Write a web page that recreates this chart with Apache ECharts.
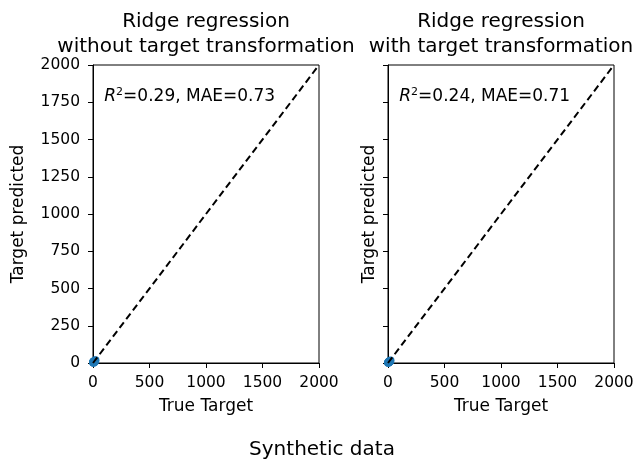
<!DOCTYPE html>
<html>
<head>
<meta charset="utf-8">
<script src="https://cdn.jsdelivr.net/npm/echarts@6/dist/echarts.min.js"></script>
<style>
  html, body { margin: 0; padding: 0; background: #fff; }
  #chart { width: 642px; height: 461px; }
</style>
</head>
<body>
<div id="chart"></div>
<script>
// Axis ticks shared by both panels
const yTicks = [0, 250, 500, 750, 1000, 1250, 1500, 1750, 2000];
const xTicks = [0, 500, 1000, 1500, 2000];

// Test-set targets and predictions (they all sit close to the origin)
const trueTargetA = [1, 3, 4, 6, 8, 10, 12, 15, 18, 22, 2, 5, 9, 14];
const predictedA  = [4, 6, 3, 9, 7, 12, 10, 14, 16, 19, 8, 2, 11, 6];
const trueTargetB = [1, 3, 4, 6, 8, 10, 12, 15, 18, 22, 2, 5, 9, 14];
const predictedB  = [2, 4, 3, 7, 6, 10, 9, 12, 14, 17, 3, 3, 8, 10];

// Perfect-prediction reference line
const identityLine = [[0, 0], [2000, 2000]];

// Panel titles and scores
const panelTitles = [
  'Ridge regression\nwithout target transformation',
  'Ridge regression\nwith target transformation'
];
const r2Scores = ['0.29', '0.24'];
const maeScores = ['0.73', '0.71'];
const scoreAnchor = [100, 1750];

const FONT = 'DejaVu Sans';
const grids = [
  { left: 93, top: 65, width: 226, height: 298 },
  { left: 388, top: 65, width: 226, height: 298 }
];

function pairs(xs, ys) { return xs.map((x, i) => [x, ys[i]]); }
const plain = v => String(v);

const xAxes = grids.map((g, i) => ({
  type: 'value', gridIndex: i,
  min: xTicks[0], max: xTicks[xTicks.length - 1], interval: xTicks[1] - xTicks[0],
  name: 'True Target', nameLocation: 'middle', nameGap: 35,
  nameTextStyle: { fontFamily: FONT, fontSize: 17, color: '#000' },
  axisLine: { show: true, lineStyle: { color: '#000', width: 1 } },
  axisTick: { show: true, length: 5, lineStyle: { color: '#000' } },
  axisLabel: { fontFamily: FONT, fontSize: 15.5, color: '#000', margin: 12, formatter: plain },
  splitLine: { show: false }
}));

const yAxes = grids.map((g, i) => ({
  type: 'value', gridIndex: i,
  min: yTicks[0], max: yTicks[yTicks.length - 1], interval: yTicks[1] - yTicks[0],
  name: 'Target predicted', nameLocation: 'middle', nameGap: i === 0 ? 66 : 10,
  nameTextStyle: { fontFamily: FONT, fontSize: 17, color: '#000' },
  axisLine: { show: true, lineStyle: { color: '#000', width: 1 } },
  axisTick: { show: true, length: 5, lineStyle: { color: '#000' } },
  axisLabel: { show: i === 0, fontFamily: FONT, fontSize: 15.5, color: '#000', margin: 13, formatter: plain },
  splitLine: { show: false }
}));

const series = [];
[[trueTargetA, predictedA], [trueTargetB, predictedB]].forEach(([t, p], i) => {
  series.push({
    type: 'scatter', xAxisIndex: i, yAxisIndex: i,
    data: pairs(t, p), symbolSize: 8,
    itemStyle: { color: '#1f77b4', opacity: 1 },
    z: 3
  });
  series.push({
    type: 'line', xAxisIndex: i, yAxisIndex: i,
    data: identityLine, symbol: 'none', silent: true,
    lineStyle: { color: '#000', width: 2, type: [7, 4] },
    z: 4
  });
  series.push({
    type: 'scatter', xAxisIndex: i, yAxisIndex: i,
    data: [scoreAnchor], symbolSize: 0, silent: true,
    itemStyle: { opacity: 1 },
    label: {
      show: true, position: [0, 4], align: 'left', verticalAlign: 'bottom', color: '#000',
      formatter: '{it|R}{sup|2}{n|=' + r2Scores[i] + ', MAE=' + maeScores[i] + '}',
      rich: {
        it: { fontFamily: FONT, fontSize: 17, fontStyle: 'italic', color: '#000', lineHeight: 20 },
        sup: { fontFamily: FONT, fontSize: 11, color: '#000', verticalAlign: 'top', lineHeight: 20 },
        n: { fontFamily: FONT, fontSize: 17, color: '#000', lineHeight: 20 }
      }
    },
    z: 5
  });
});

const graphic = [
  ...panelTitles.map((txt, i) => ({
    type: 'text',
    x: grids[i].left + grids[i].width / 2, y: 34,
    style: {
      text: txt, fill: '#000', font: '20px "' + FONT + '"',
      textAlign: 'center', textVerticalAlign: 'middle', lineHeight: 25
    }
  })),
  {
    type: 'text', x: 322, y: 450,
    style: {
      text: 'Synthetic data', fill: '#000', font: '20px "' + FONT + '"',
      textAlign: 'center', textVerticalAlign: 'middle'
    }
  }
];

const chart = echarts.init(document.getElementById('chart'), null, { renderer: 'canvas' });
chart.setOption({
  animation: false,
  backgroundColor: '#fff',
  grid: grids.map(g => ({ ...g, show: true, borderColor: '#000', borderWidth: 1, backgroundColor: 'transparent' })),
  xAxis: xAxes,
  yAxis: yAxes,
  series: series,
  graphic: graphic
});
</script>
</body>
</html>
